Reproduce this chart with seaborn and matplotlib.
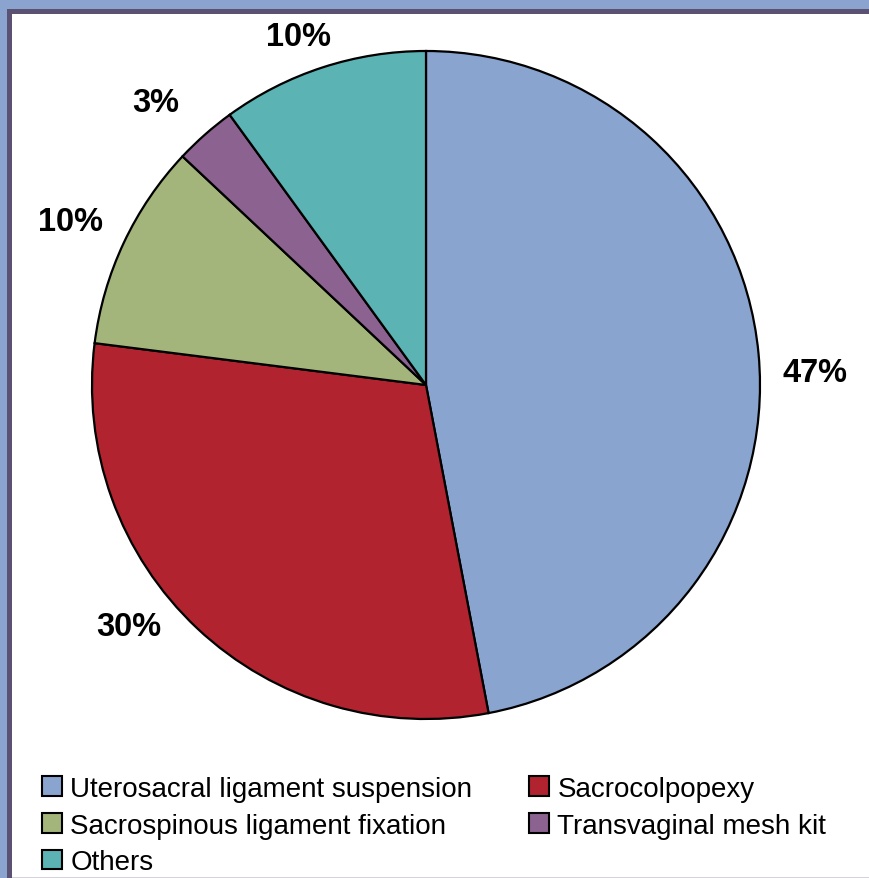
import numpy as np
import matplotlib
matplotlib.use("Agg")
import matplotlib.pyplot as plt
import seaborn as sns
from matplotlib.patches import Rectangle

sns.set_style("white")
plt.rcParams['font.family'] = ['Liberation Sans', 'DejaVu Sans']

# data
categorias = ['Uterosacral ligament suspension', 'Sacrocolpopexy',
              'Sacrospinous ligament fixation', 'Transvaginal mesh kit', 'Others']
porcentajes = [47, 30, 10, 3, 10]
etiquetas = ['47%', '30%', '10%', '3%', '10%']

colores = ['#8AA4D0', '#B0232F', '#A3B57A', '#8C6290', '#5BB3B3']

# label layout (Excel style placement), not data
ajuste_angulo = [-3.5, -7.7, 0.5, 2.4, 2.1]
distancia = [1.165, 1.145, 1.17, 1.17, 1.11]

W, H = 869, 879
fig = plt.figure(figsize=(W / 100, H / 100), dpi=100)
fig.patch.set_facecolor('#8AA3CF')

# frame: dark line, white panel, faint line at the bottom
fig.patches.append(Rectangle((7 / W, 0), 1, 1 - 9.5 / H, transform=fig.transFigure,
                             facecolor='#5A5173', edgecolor='none', zorder=-3))
fig.patches.append(Rectangle((12 / W, 0), 1, 1 - 15 / H, transform=fig.transFigure,
                             facecolor='white', edgecolor='none', zorder=-2))
fig.patches.append(Rectangle((12 / W, 0), 1, 1.5 / H, transform=fig.transFigure,
                             facecolor='#D6D2DC', edgecolor='none', zorder=-1))

# pie axes: radius 334 px, centre (426, 386)
r_px = 334
cx, cy = 426, 386
lado = 2.5 * r_px
ax = fig.add_axes([(cx - lado / 2) / W, 1 - (cy + lado / 2) / H, lado / W, lado / H])
ax.set_zorder(2)
ax.patch.set_alpha(0)

wedges, _ = ax.pie(porcentajes, colors=colores, startangle=90, counterclock=False,
                   wedgeprops=dict(edgecolor='black', linewidth=1.6))
ax.set_xlim(-1.25, 1.25)
ax.set_ylim(-1.25, 1.25)
ax.set_aspect('equal')

for w, txt, da, d in zip(wedges, etiquetas, ajuste_angulo, distancia):
    ang = np.deg2rad((w.theta1 + w.theta2) / 2 + da)
    ax.text(d * np.cos(ang), d * np.sin(ang), txt, ha='center', va='center',
            fontsize=23.5, fontweight='bold', color='black')

# legend filled row by row like the original
orden = [0, 2, 4, 1, 3]
leg = fig.legend([wedges[i] for i in orden], [categorias[i] for i in orden],
                 ncol=2, loc='upper left',
                 bbox_to_anchor=(42 / W, 1 - 777 / H), frameon=False,
                 fontsize=20, handlelength=0.72, handleheight=0.72,
                 handletextpad=0.3, columnspacing=2.04, labelspacing=0.38,
                 borderpad=0, borderaxespad=0, labelcolor='black')
leg.set_zorder(3)
for h in leg.legend_handles:
    h.set_edgecolor('black')
    h.set_linewidth(1.5)

fig.savefig('out.png', dpi=100)
